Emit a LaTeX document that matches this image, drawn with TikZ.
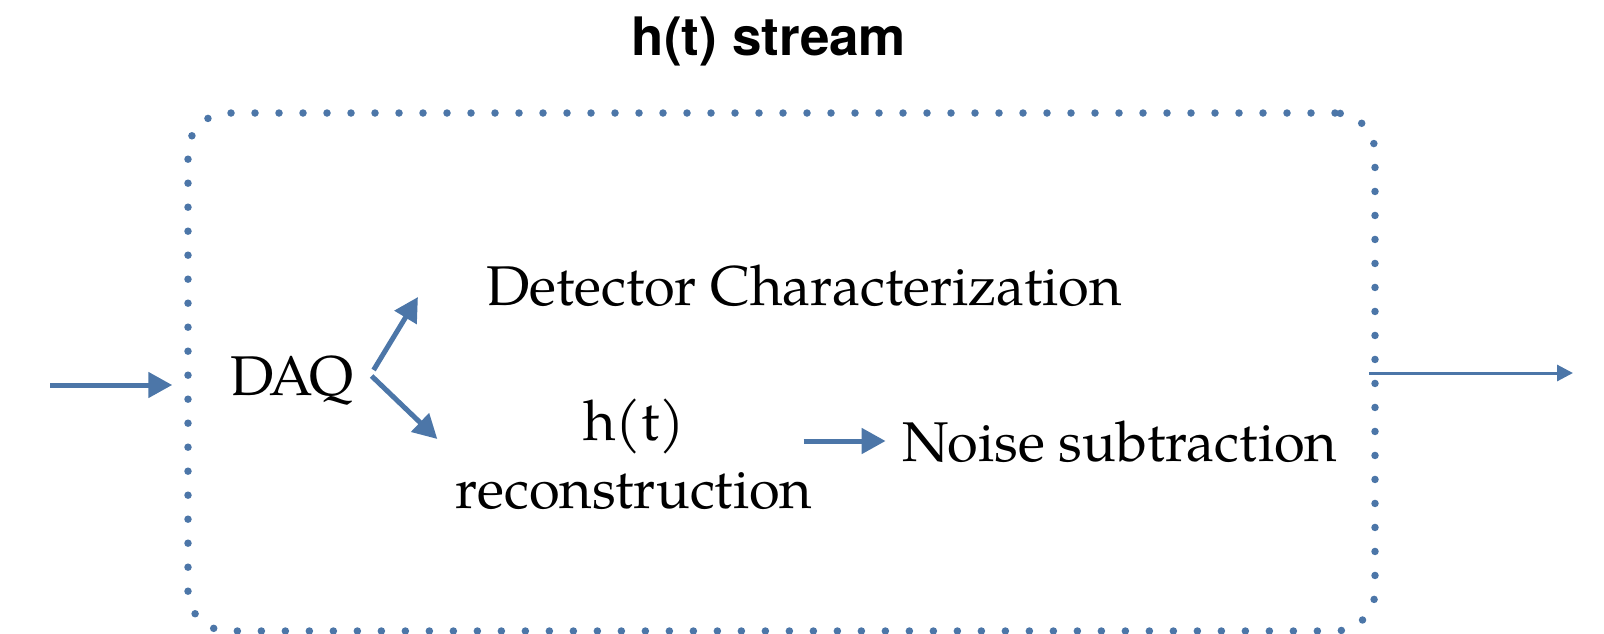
\documentclass[tikz,border=0pt]{standalone}
\usepackage{fontspec}
\setmainfont{TeX Gyre Pagella}
\newfontfamily\titlefont{TeX Gyre Heros}
\usetikzlibrary{arrows.meta,calc}
\definecolor{flow}{RGB}{76,118,168}
\tikzset{
  label text/.style={inner sep=0pt, font=\fontsize{56}{68}\selectfont, text=black},
  thick flow/.style={draw=flow, line width=5pt, -{Triangle[length=24pt,width=25pt]}},
  thin flow/.style={draw=flow, line width=3pt, -{Triangle[length=16pt,width=16pt]}},
  stage box/.style={draw=flow, line width=7.5pt, line cap=round,
    dash pattern=on 0pt off 24pt, rounded corners=40pt,
    minimum width=1187pt, minimum height=518pt, inner sep=0pt}
}
\begin{document}
\begin{tikzpicture}[x=1pt,y=-1pt]
  \useasboundingbox (0,0) rectangle (1604,633);

  % heading
  \node[inner sep=0pt, anchor=base, font=\titlefont\bfseries\fontsize{53}{60}\selectfont]
    (title) at (769,55) {h(t) stream};

  % dotted frame of the stream stage
  \node[stage box] (box) at (781.5,372) {};

  % labels (the two-line label is placed by the baseline of its last line)
  \node[label text, anchor=base] (daq) at (292,395) {DAQ};
  \node[label text, anchor=base] (det) at (804,305) {Detector Characterization};
  \node[label text, anchor=base, align=center] (rec) at (634,508) {h(t)\\reconstruction};
  \node[label text, anchor=base] (noise) at (1120,461) {Noise subtraction};

  % incoming and outgoing data
  \coordinate (src) at (50,385);
  \coordinate (sink) at (1573,373);
  \draw[thick flow, shorten >=12pt] (src) -- (box.west |- src);
  \draw[thin flow] ($(box.east |- sink)+(-10,0)$) -- (sink);

  % DAQ fan-out
  \draw[thick flow] ($(daq.base east)+(20,-25)$) -- ($(det.base west)+(-68,-8)$);
  \draw[thick flow] ($(daq.base east)+(18,-19)$) -- ($(rec.base west)+(-18,-69)$);

  % reconstruction into noise subtraction
  \draw[thick flow] ($(noise.base west)+(-99,-20)$) -- ($(noise.base west)+(-17,-20)$);
\end{tikzpicture}
\end{document}
